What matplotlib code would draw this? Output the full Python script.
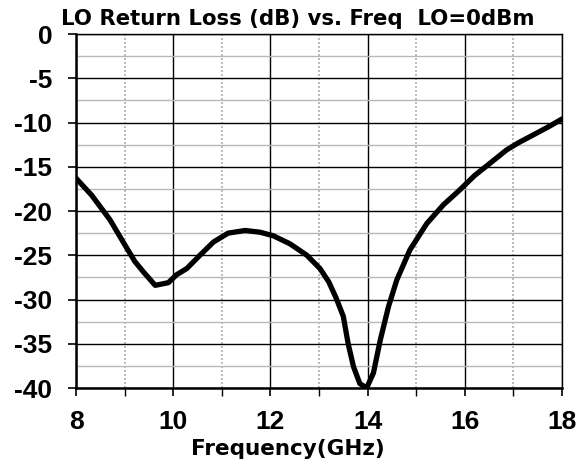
import matplotlib
matplotlib.use("Agg")
import matplotlib.pyplot as plt
from matplotlib.ticker import MultipleLocator

freq = [8.0, 8.32, 8.70, 8.97, 9.21, 9.39, 9.63, 9.90, 10.07, 10.28, 10.55, 10.83,
        11.13, 11.48, 11.79, 12.06, 12.40, 12.75, 13.02, 13.20, 13.35, 13.50, 13.60,
        13.71, 13.84, 13.98, 14.12, 14.26, 14.43, 14.60, 14.87, 15.22, 15.56, 15.90,
        16.20, 16.52, 16.86, 17.10, 17.41, 17.75, 18.0]
rl = [-16.3, -18.2, -21.0, -23.5, -25.7, -26.9, -28.4, -28.1, -27.2, -26.5, -25.0, -23.5,
      -22.5, -22.2, -22.4, -22.8, -23.7, -25.0, -26.5, -28.0, -29.8, -31.9, -35.0,
      -37.6, -39.5, -40.0, -38.3, -34.6, -30.8, -27.8, -24.4, -21.4, -19.3, -17.6,
      -16.0, -14.6, -13.1, -12.3, -11.4, -10.4, -9.6]

title = "LO Return Loss (dB) vs. Freq  LO=0dBm"
xlabel = "Frequency(GHz)"

plt.rcParams['font.family'] = ['Liberation Sans', 'DejaVu Sans']
plt.rcParams['font.weight'] = 'bold'
plt.rcParams['axes.unicode_minus'] = False

W, H = 580, 465
fig = plt.figure(figsize=(5.8, 4.65), dpi=100)
ax = fig.add_axes([76/W, 1-388/H, (562-76)/W, (388-34)/H])

ax.set_xlim(8, 18)
ax.set_ylim(-40, 0)
ax.xaxis.set_major_locator(MultipleLocator(2))
ax.xaxis.set_minor_locator(MultipleLocator(1))
ax.yaxis.set_major_locator(MultipleLocator(5))
ax.yaxis.set_minor_locator(MultipleLocator(2.5))

ax.grid(which='major', axis='both', color='black', lw=1.0, zorder=1)
ax.grid(which='minor', axis='x', color='#b0b0b0', lw=1.2, ls=(0, (1.2, 1.2)), zorder=1)
ax.grid(which='minor', axis='y', color='#b8b8b8', lw=1.0, zorder=1)
ax.set_axisbelow(True)

ax.plot(freq, rl, color='black', lw=3.8, solid_capstyle='round', zorder=3)

for s in ax.spines.values():
    s.set_linewidth(1.0)
ax.spines['left'].set_linewidth(1.8)
ax.spines['bottom'].set_linewidth(1.8)

ax.tick_params(which='major', direction='out', length=6, width=1.2, labelsize=19)
ax.tick_params(which='major', axis='y', pad=11)
ax.tick_params(which='major', axis='x', pad=10)
ax.tick_params(which='minor', axis='x', direction='out', length=6, width=1.0)
ax.tick_params(which='minor', axis='y', length=0)

fig.text(298/W, 1-25/H, title, ha='center', va='baseline', fontsize=15.3,
         fontweight='bold', family='DejaVu Sans')
fig.text(288/W, 1-455/H, xlabel, ha='center', va='baseline', fontsize=15.5,
         fontweight='bold', family='DejaVu Sans')

fig.savefig("out.png", dpi=100)
